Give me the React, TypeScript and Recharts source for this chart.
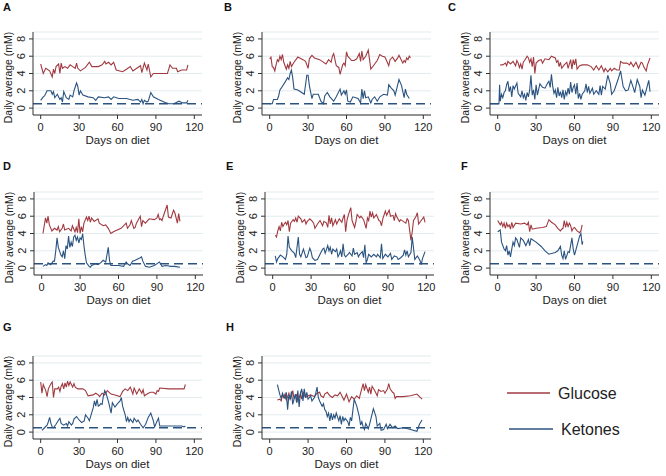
import { LineChart, Line, XAxis, YAxis, CartesianGrid, ReferenceLine } from 'recharts';

// [day, mM] pairs
const glucoseA = [[0,5.1],[2,4.0],[4,4.6],[7,4.3],[9,3.6],[10,4.5],[11,4.0],[12,4.8],[14,5.1],[15,4.0],[16,5.2],[17,4.6],[19,4.8],[21,4.6],[23,5.0],[25,4.8],[27,4.6],[28,5.2],[29,4.6],[31,4.3],[35,4.7],[38,5.3],[40,4.8],[45,4.8],[48,5.0],[50,5.4],[51,5.1],[53,5.3],[55,5.0],[57,5.3],[59,4.4],[64,4.2],[67,4.5],[70,4.8],[72,4.3],[75,4.6],[78,4.9],[79,4.1],[81,5.2],[83,4.4],[84,5.1],[86,3.6],[88,4.0],[95,4.0],[99,4.0],[101,5.0],[103,4.6],[106,4.6],[107,4.2],[110,4.4],[114,4.4],[115,5.0]];
const ketonesA = [[0,0.9],[2,1.3],[3,1.4],[5,2.0],[8,2.0],[9,1.6],[10,1.9],[11,1.2],[13,1.6],[15,1.0],[16,1.2],[17,0.7],[18,1.9],[20,1.2],[22,1.0],[23,1.5],[25,1.3],[26,2.0],[28,2.9],[29,2.5],[30,1.5],[31,2.0],[33,1.5],[37,1.3],[41,1.2],[43,0.9],[45,1.3],[50,1.2],[53,1.3],[55,1.0],[57,1.3],[61,1.1],[67,1.1],[72,0.9],[76,1.0],[78,0.7],[79,1.0],[80,0.5],[81,0.9],[83,0.7],[84,0.8],[86,1.8],[88,1.3],[92,1.0],[95,0.8],[98,0.6],[100,0.5],[104,0.5],[108,0.8],[111,0.6],[114,0.6],[115,0.9]];

const glucoseB = [[0,5.7],[1,5.9],[2,4.8],[3,4.7],[4,4.3],[5,5.0],[6,5.6],[7,5.4],[8,6.0],[9,5.6],[10,6.2],[11,5.3],[13,4.5],[14,5.0],[15,4.6],[16,5.4],[17,4.8],[19,5.3],[22,5.9],[26,5.6],[28,5.4],[30,4.6],[31,5.7],[33,6.1],[35,5.8],[39,5.6],[41,5.4],[44,5.1],[46,5.6],[48,5.3],[49,6.0],[50,6.3],[52,4.9],[54,4.7],[55,3.9],[57,5.0],[58,5.2],[59,4.9],[60,6.5],[61,6.0],[64,5.5],[66,5.5],[68,5.7],[70,6.3],[71,5.4],[72,6.6],[73,5.6],[75,6.0],[77,6.7],[78,5.6],[79,4.5],[81,4.9],[84,5.5],[86,6.2],[88,6.0],[90,5.9],[91,5.6],[93,4.9],[94,5.6],[96,5.9],[98,5.4],[100,5.8],[101,6.1],[103,5.5],[104,5.2],[105,5.5],[106,5.3],[107,5.8],[108,5.6],[109,6.0],[110,5.8]];
const ketonesB = [[0,0.5],[2,0.5],[3,1.0],[6,1.0],[7,1.4],[8,2.1],[9,2.3],[12,3.0],[14,3.5],[15,3.3],[16,4.0],[17,4.4],[18,3.5],[19,2.2],[22,2.1],[25,1.8],[27,1.6],[29,3.8],[30,3.8],[31,2.6],[33,1.1],[34,1.6],[38,1.6],[40,0.8],[42,0.5],[43,1.4],[45,1.8],[47,1.3],[50,0.8],[52,1.3],[55,2.2],[56,1.5],[58,2.0],[59,1.6],[60,2.1],[61,0.8],[63,0.7],[65,1.3],[69,1.1],[71,0.6],[72,2.2],[73,1.1],[74,2.0],[75,1.2],[77,1.3],[79,0.6],[80,1.0],[82,1.3],[84,0.8],[86,1.3],[89,1.6],[92,1.5],[93,2.7],[95,2.3],[97,2.0],[98,1.5],[101,3.3],[103,2.6],[105,1.2],[106,2.2],[107,1.6],[109,1.1]];

const glucoseC = [[2,5.0],[4,5.0],[6,5.2],[7,4.9],[8,5.4],[10,5.1],[12,5.4],[14,4.9],[15,5.5],[16,5.2],[17,4.7],[18,5.1],[19,4.5],[20,5.3],[21,5.5],[23,6.0],[24,5.8],[25,5.3],[26,5.7],[27,4.8],[28,5.9],[29,4.0],[30,5.2],[32,5.5],[34,5.6],[35,5.2],[37,5.7],[40,5.6],[42,6.0],[45,5.8],[46,5.3],[47,5.5],[48,4.8],[49,5.3],[50,4.6],[52,5.0],[54,5.3],[55,4.6],[57,5.6],[58,4.5],[59,5.6],[60,5.0],[61,5.7],[62,4.5],[64,4.9],[66,5.0],[70,5.0],[73,4.8],[75,4.4],[77,4.9],[79,4.4],[81,4.9],[83,4.2],[84,4.6],[86,4.2],[88,4.6],[89,4.3],[91,4.6],[93,4.4],[95,4.4],[96,5.4],[98,5.2],[101,5.2],[103,5.0],[104,5.3],[106,4.8],[108,5.3],[110,4.6],[112,5.3],[113,5.2],[114,4.8],[116,4.3],[117,5.0],[119,5.8]];
const ketonesC = [[-6,0.5],[1,0.5],[1.5,2.7],[2,0.8],[3,1.6],[4,1.2],[5,1.8],[6,2.0],[7,2.7],[8,3.1],[9,1.9],[10,2.5],[11,1.3],[12,2.6],[13,2.2],[15,2.9],[16,1.7],[18,1.3],[19,2.0],[20,1.2],[21,1.6],[22,0.9],[23,1.8],[24,1.3],[25,2.1],[26,3.8],[27,1.5],[28,2.1],[29,1.0],[30,2.7],[31,1.5],[33,2.8],[35,2.4],[37,2.3],[39,2.9],[40,3.1],[41,2.4],[42,3.9],[43,2.5],[44,1.7],[45,2.1],[46,1.2],[47,2.4],[48,1.4],[49,1.9],[50,1.2],[51,2.1],[52,1.0],[53,1.9],[54,1.5],[55,2.3],[56,1.6],[57,3.0],[58,1.8],[59,2.4],[60,2.7],[61,1.6],[62,2.9],[63,1.1],[64,1.7],[65,1.0],[66,1.6],[68,2.0],[69,2.8],[70,1.8],[71,2.5],[72,1.7],[74,2.3],[75,1.6],[77,2.0],[79,1.6],[80,2.6],[81,1.5],[82,2.5],[84,2.2],[86,3.8],[88,2.8],[89,1.6],[91,2.0],[94,3.3],[96,4.3],[98,2.5],[100,2.0],[102,2.1],[104,3.2],[106,2.3],[107,1.8],[109,3.3],[111,2.5],[112,1.2],[113,2.1],[115,1.5],[118,3.2],[119,1.9]];

const glucoseD = [[1,4.0],[3,5.8],[4,5.2],[5,6.0],[6,5.0],[8,4.3],[10,4.6],[12,4.4],[13,4.8],[14,4.2],[16,4.6],[17,5.1],[18,4.4],[21,4.6],[23,4.3],[24,4.9],[26,4.2],[27,4.7],[28,4.1],[29,5.7],[30,4.0],[31,4.8],[32,4.2],[33,5.2],[35,5.9],[36,5.5],[37,6.0],[38,5.3],[39,5.8],[41,5.4],[44,5.7],[45,5.2],[48,4.9],[50,5.0],[52,4.6],[54,4.0],[56,4.2],[62,4.6],[66,5.2],[67,4.6],[69,5.0],[70,5.5],[72,4.6],[73,4.7],[74,5.2],[77,6.0],[78,4.8],[79,5.5],[81,5.2],[84,5.7],[88,5.6],[90,5.8],[91,6.2],[92,5.6],[93,5.7],[94,5.5],[95,6.0],[98,7.3],[99,5.9],[101,5.8],[103,6.7],[104,6.4],[106,5.2],[107,6.3],[108,5.4]];
const ketonesD = [[1,0.2],[3,0.4],[4,0.3],[5,0.6],[7,0.4],[9,0.8],[10,0.8],[11,2.0],[12,3.5],[13,2.4],[15,1.5],[16,1.3],[17,2.0],[18,1.1],[19,2.6],[20,2.2],[21,3.7],[22,2.4],[23,3.0],[24,2.5],[25,3.6],[26,3.8],[27,3.2],[28,3.6],[29,2.9],[30,3.5],[31,3.3],[32,4.0],[33,2.6],[34,1.5],[35,0.6],[37,0.2],[38,0.1],[39,0.3],[42,0.5],[44,0.4],[46,0.6],[48,0.9],[50,0.7],[52,2.4],[53,0.9],[54,0.3],[60,0.3],[64,0.2],[66,0.7],[67,0.5],[69,0.3],[71,0.8],[73,0.9],[77,1.2],[78,1.3],[79,0.8],[81,0.2],[84,0.1],[88,0.3],[91,0.6],[92,0.7],[94,0.2],[97,0.3],[101,0.2],[104,0.2],[108,0.1]];

const glucoseE = [[2,3.8],[3,3.6],[4,4.3],[5,4.8],[6,4.3],[7,5.3],[8,4.8],[9,5.1],[10,5.3],[11,5.0],[12,5.5],[13,4.2],[14,5.2],[16,5.6],[17,5.4],[18,5.8],[19,5.3],[20,6.0],[22,5.7],[23,5.3],[25,5.6],[26,5.1],[27,5.4],[29,5.7],[31,5.4],[32,5.2],[33,4.6],[35,5.1],[37,5.5],[39,4.9],[40,5.4],[42,5.2],[43,4.7],[44,6.1],[45,5.1],[46,5.8],[47,4.9],[49,5.6],[50,5.1],[52,5.7],[54,5.3],[55,5.8],[56,6.2],[57,4.2],[58,5.5],[59,6.1],[61,7.0],[62,5.5],[64,4.7],[65,5.4],[66,6.2],[68,5.8],[69,6.0],[71,5.6],[73,4.6],[74,5.8],[75,5.5],[76,6.6],[77,5.9],[78,6.4],[79,5.8],[81,6.2],[83,5.5],[84,5.4],[85,4.9],[86,5.7],[88,6.6],[89,6.1],[91,6.7],[92,6.0],[94,6.1],[95,5.5],[96,6.3],[97,5.9],[99,5.4],[100,5.6],[102,5.4],[104,5.2],[105,5.7],[106,5.5],[108,3.2],[109,4.2],[110,5.5],[112,6.0],[113,6.4],[114,5.1],[116,5.5],[118,5.9],[119,5.3]];
const ketonesE = [[2,1.4],[3,0.7],[4,1.1],[6,1.5],[8,1.3],[10,1.0],[11,1.6],[12,3.7],[13,2.4],[15,2.0],[17,1.7],[18,1.2],[20,3.6],[21,1.6],[22,1.3],[24,2.2],[26,1.2],[27,1.3],[29,2.3],[30,1.9],[31,1.2],[33,0.9],[35,1.0],[37,1.6],[39,2.2],[40,2.3],[41,1.7],[43,2.6],[44,2.0],[45,2.4],[46,1.6],[47,2.2],[49,1.9],[50,2.2],[51,1.3],[52,1.6],[53,2.0],[54,1.3],[55,2.8],[56,1.5],[57,1.3],[59,1.6],[60,1.8],[62,1.4],[63,2.3],[64,1.6],[66,1.8],[67,1.3],[68,1.6],[70,1.9],[71,1.2],[72,2.7],[73,0.6],[74,1.0],[75,1.6],[77,1.3],[79,1.6],[81,1.3],[82,1.6],[83,1.4],[84,1.2],[85,2.8],[86,1.1],[88,1.6],[90,1.3],[92,1.7],[93,1.0],[95,1.4],[97,1.3],[98,1.0],[100,1.2],[102,1.5],[103,2.1],[104,1.5],[105,2.0],[106,1.3],[108,1.8],[109,3.6],[111,1.0],[113,1.4],[115,0.9],[116,0.4],[117,1.1],[119,1.9]];

const glucoseF = [[0,5.5],[2,5.0],[3,5.3],[4,4.8],[5,5.2],[6,4.6],[7,5.2],[8,4.8],[9,5.0],[10,4.5],[11,5.3],[12,4.7],[14,5.2],[18,5.1],[21,5.2],[23,5.0],[24,5.3],[25,4.2],[26,5.0],[27,4.5],[30,4.6],[35,4.7],[38,4.8],[40,5.6],[42,5.3],[45,5.0],[47,4.6],[49,4.3],[50,4.5],[51,4.6],[52,5.5],[53,4.7],[54,5.3],[55,4.8],[56,5.2],[57,4.9],[58,4.3],[59,4.6],[60,4.7],[62,4.3],[64,4.1],[65,4.3],[66,5.0]];
const ketonesF = [[0,4.2],[2,4.4],[3,3.0],[5,2.2],[6,2.0],[7,2.6],[8,1.5],[9,2.0],[10,1.3],[11,2.2],[12,3.0],[13,2.6],[14,3.5],[15,3.3],[17,2.4],[18,3.5],[20,3.2],[22,2.6],[24,3.3],[25,2.6],[26,3.4],[30,3.0],[34,2.5],[37,2.0],[40,1.6],[45,1.8],[47,2.0],[49,2.5],[50,1.5],[51,1.1],[52,2.0],[53,1.0],[55,1.9],[56,1.8],[58,3.5],[59,2.2],[60,1.5],[62,2.6],[64,3.7],[65,4.0],[66,2.7],[66.5,3.1]];

const glucoseG = [[0,5.8],[1,4.5],[2,5.5],[4,4.8],[5,4.1],[6,5.0],[8,5.6],[9,5.8],[10,4.0],[11,5.0],[13,5.0],[14,5.2],[15,4.7],[16,5.3],[17,5.6],[18,5.0],[19,5.7],[20,5.2],[21,5.9],[22,5.4],[23,5.8],[25,5.2],[26,5.6],[27,5.2],[29,5.0],[33,5.0],[35,4.8],[37,4.2],[41,4.3],[43,4.5],[45,4.3],[46,4.1],[48,4.5],[50,4.3],[52,4.8],[55,4.4],[58,4.3],[62,4.1],[64,4.7],[66,5.0],[68,4.8],[70,5.2],[72,4.4],[73,5.1],[75,4.4],[77,5.0],[79,4.5],[80,4.9],[81,4.2],[84,4.5],[86,4.6],[88,4.6],[90,4.4],[91,4.8],[92,4.7],[93,5.1],[100,5.0],[112,5.0],[113,5.5]];
const ketonesG = [[1,0.2],[3,0.5],[5,0.8],[6,1.2],[7,1.7],[8,1.0],[9,0.6],[10,0.5],[12,0.9],[14,1.4],[15,1.6],[16,1.0],[18,0.8],[20,1.0],[21,0.7],[22,1.2],[24,0.8],[25,1.0],[26,1.5],[28,1.8],[30,1.4],[32,1.1],[34,1.3],[35,2.0],[37,1.6],[38,1.3],[40,2.3],[41,2.8],[42,3.6],[43,3.0],[44,3.8],[45,3.0],[46,3.1],[47,3.3],[48,3.2],[49,4.2],[50,4.8],[51,4.5],[53,3.5],[55,2.2],[56,3.4],[58,2.9],[60,3.3],[62,3.6],[63,4.0],[64,3.0],[66,2.0],[67,1.2],[68,1.7],[69,1.2],[70,1.5],[72,1.1],[73,1.6],[75,1.2],[76,1.4],[78,0.9],[80,0.5],[82,0.9],[84,1.7],[86,2.2],[88,1.3],[89,0.6],[91,1.3],[92,1.6],[93,0.7],[100,0.7],[110,0.7],[112,0.6],[113,0.7]];

const glucoseH = [[6,3.7],[8,3.8],[9,3.6],[10,4.3],[11,4.0],[12,4.4],[13,3.7],[15,4.5],[16,3.8],[17,4.2],[18,4.8],[19,3.9],[21,4.3],[22,3.6],[24,4.4],[25,3.8],[26,4.6],[28,4.0],[30,4.2],[32,4.3],[35,4.1],[37,4.5],[39,4.6],[40,4.2],[42,4.0],[43,4.4],[45,4.6],[47,4.2],[49,4.0],[51,4.3],[53,4.2],[55,4.6],[57,4.0],[58,3.7],[60,4.4],[62,3.5],[64,4.1],[66,3.8],[68,4.2],[70,3.9],[71,4.5],[73,5.6],[74,4.8],[75,5.5],[77,4.6],[78,5.2],[79,4.4],[80,5.3],[82,4.8],[84,4.2],[85,4.9],[87,4.7],[89,4.8],[90,4.5],[92,5.0],[93,5.6],[94,5.0],[96,4.6],[97,4.5],[98,3.9],[99,4.1],[104,4.1],[110,4.2],[115,4.4],[117,4.1],[119,3.8]];
const ketonesH = [[6,5.5],[8,4.3],[9,3.9],[10,4.5],[11,4.1],[12,3.9],[13,4.6],[14,2.6],[15,4.3],[16,3.8],[17,4.7],[18,3.2],[20,4.4],[21,3.4],[22,4.8],[23,2.9],[24,4.5],[25,5.0],[26,3.6],[27,5.0],[28,4.0],[29,4.6],[30,3.8],[32,4.2],[33,3.6],[35,4.0],[36,4.5],[37,5.2],[38,4.0],[39,3.6],[41,3.0],[42,3.3],[43,2.6],[44,2.4],[45,1.8],[46,2.2],[47,1.3],[48,2.2],[49,1.4],[50,2.0],[51,1.6],[52,2.2],[54,1.3],[55,1.9],[56,0.9],[57,1.8],[58,1.3],[59,1.6],[61,1.2],[62,0.7],[63,1.7],[64,1.3],[66,3.8],[68,3.0],[70,1.8],[71,0.8],[72,1.2],[73,0.6],[74,0.3],[75,1.0],[77,0.4],[78,0.9],[81,2.7],[83,1.8],[84,0.7],[86,1.0],[87,0.2],[89,0.3],[91,0.9],[92,0.4],[94,0.9],[96,0.5],[98,0.7],[100,0.4],[105,0.5],[110,0.3],[115,0.1],[117,0.9],[119,1.4]];

const panelLetters = ['A', 'B', 'C', 'D', 'E', 'F', 'G', 'H'];
const glucoseSeries = [glucoseA, glucoseB, glucoseC, glucoseD, glucoseE, glucoseF, glucoseG, glucoseH];
const ketoneSeries = [ketonesA, ketonesB, ketonesC, ketonesD, ketonesE, ketonesF, ketonesG, ketonesH];
const xTicks = [0, 30, 60, 90, 120];
const yTicks = [0, 2, 4, 6, 8];
const ketosisThreshold = 0.5;

// layout: chart box left/top, panel letter position
const layout = [
  { left: 0, top: 0, lx: 3, ly: 11 },
  { left: 229, top: 0, lx: 224, ly: 11 },
  { left: 457, top: 0, lx: 448, ly: 11 },
  { left: 1, top: 160, lx: 3, ly: 170 },
  { left: 232, top: 160, lx: 226, ly: 170 },
  { left: 457, top: 160, lx: 461, ly: 170 },
  { left: 0, top: 324, lx: 3, ly: 331 },
  { left: 229, top: 324, lx: 226, ly: 331 },
];

const FONT = '"Liberation Sans", Arial, Helvetica, sans-serif';
const GLUCOSE = '#a13a40';
const KETONES = '#2a5380';
const AXIS = '#333';

const toPts = (arr: number[][]) => arr.map(([day, value]) => ({ day, value }));

function YTick(props: any) {
  const { x, y, payload } = props;
  const cx = x - 6;
  return (
    <text x={cx} y={y} transform={`rotate(-90 ${cx} ${y})`} textAnchor="middle" dominantBaseline="central"
      fontSize={11} fontFamily={FONT} fill="#222">
      {payload.value}
    </text>
  );
}

function Panel({ glucose, ketones }: { glucose: number[][]; ketones: number[][] }) {
  return (
    <LineChart width={206} height={158} margin={{ top: 32, right: 4, left: 0, bottom: 0 }}>
      <CartesianGrid vertical={false} stroke="#e2ebee" strokeWidth={1} />
      <XAxis dataKey="day" type="number" domain={[-6, 126]} ticks={xTicks} interval={0} height={43}
        tickSize={4} tickMargin={4} stroke={AXIS}
        tick={{ fontSize: 11, fontFamily: FONT, fill: '#222' }}
        label={{
          content: (p: any) => (
            <text x={p.viewBox.x + p.viewBox.width / 2} y={p.viewBox.y + 29} textAnchor="middle"
              fontSize={11.5} fontFamily={FONT} fill="#222">Days on diet</text>
          ),
        }} />
      <YAxis type="number" domain={[-0.8, 8.8]} ticks={yTicks} interval={0} width={33} tickSize={4} tickMargin={2}
        stroke={AXIS} tick={<YTick />}
        label={{
          content: (p: any) => {
            const lx = p.viewBox.x + 8;
            const ly = p.viewBox.y + p.viewBox.height / 2 + 4;
            return (
              <text x={lx} y={ly} transform={`rotate(-90 ${lx} ${ly})`} textAnchor="middle" dominantBaseline="central"
                fontSize={10.5} fontFamily={FONT} fill="#222">Daily average (mM)</text>
            );
          },
        }} />
      <ReferenceLine y={ketosisThreshold} stroke={KETONES} strokeWidth={1.3} strokeDasharray="9 5" />
      <Line data={toPts(glucose)} dataKey="value" stroke={GLUCOSE} strokeWidth={1.1} dot={false} isAnimationActive={false} />
      <Line data={toPts(ketones)} dataKey="value" stroke={KETONES} strokeWidth={1.1} dot={false} isAnimationActive={false} />
    </LineChart>
  );
}

export default function App() {
  return (
    <div style={{ position: 'absolute', left: 0, top: 0, width: 666, height: 476, background: '#fff', fontFamily: FONT }}>
      {layout.map((pos, i) => (
        <div key={panelLetters[i]} style={{ position: 'absolute', left: pos.left, top: pos.top }}>
          <Panel glucose={glucoseSeries[i]} ketones={ketoneSeries[i]} />
        </div>
      ))}
      <svg width={666} height={476} style={{ position: 'absolute', left: 0, top: 0, pointerEvents: 'none' }}>
        {layout.map((pos, i) => (
          <text key={i} x={pos.lx} y={pos.ly} fontSize={11} fontWeight="bold" fontFamily={FONT} fill="#111">
            {panelLetters[i]}
          </text>
        ))}
        <line x1={507} x2={550} y1={393} y2={393} stroke={GLUCOSE} strokeWidth={1.3} />
        <text x={558} y={399} fontSize={16} fontFamily={FONT} fill="#222">Glucose</text>
        <line x1={509} x2={553} y1={429} y2={429} stroke={KETONES} strokeWidth={1.3} />
        <text x={561} y={435} fontSize={16} fontFamily={FONT} fill="#222">Ketones</text>
      </svg>
    </div>
  );
}
